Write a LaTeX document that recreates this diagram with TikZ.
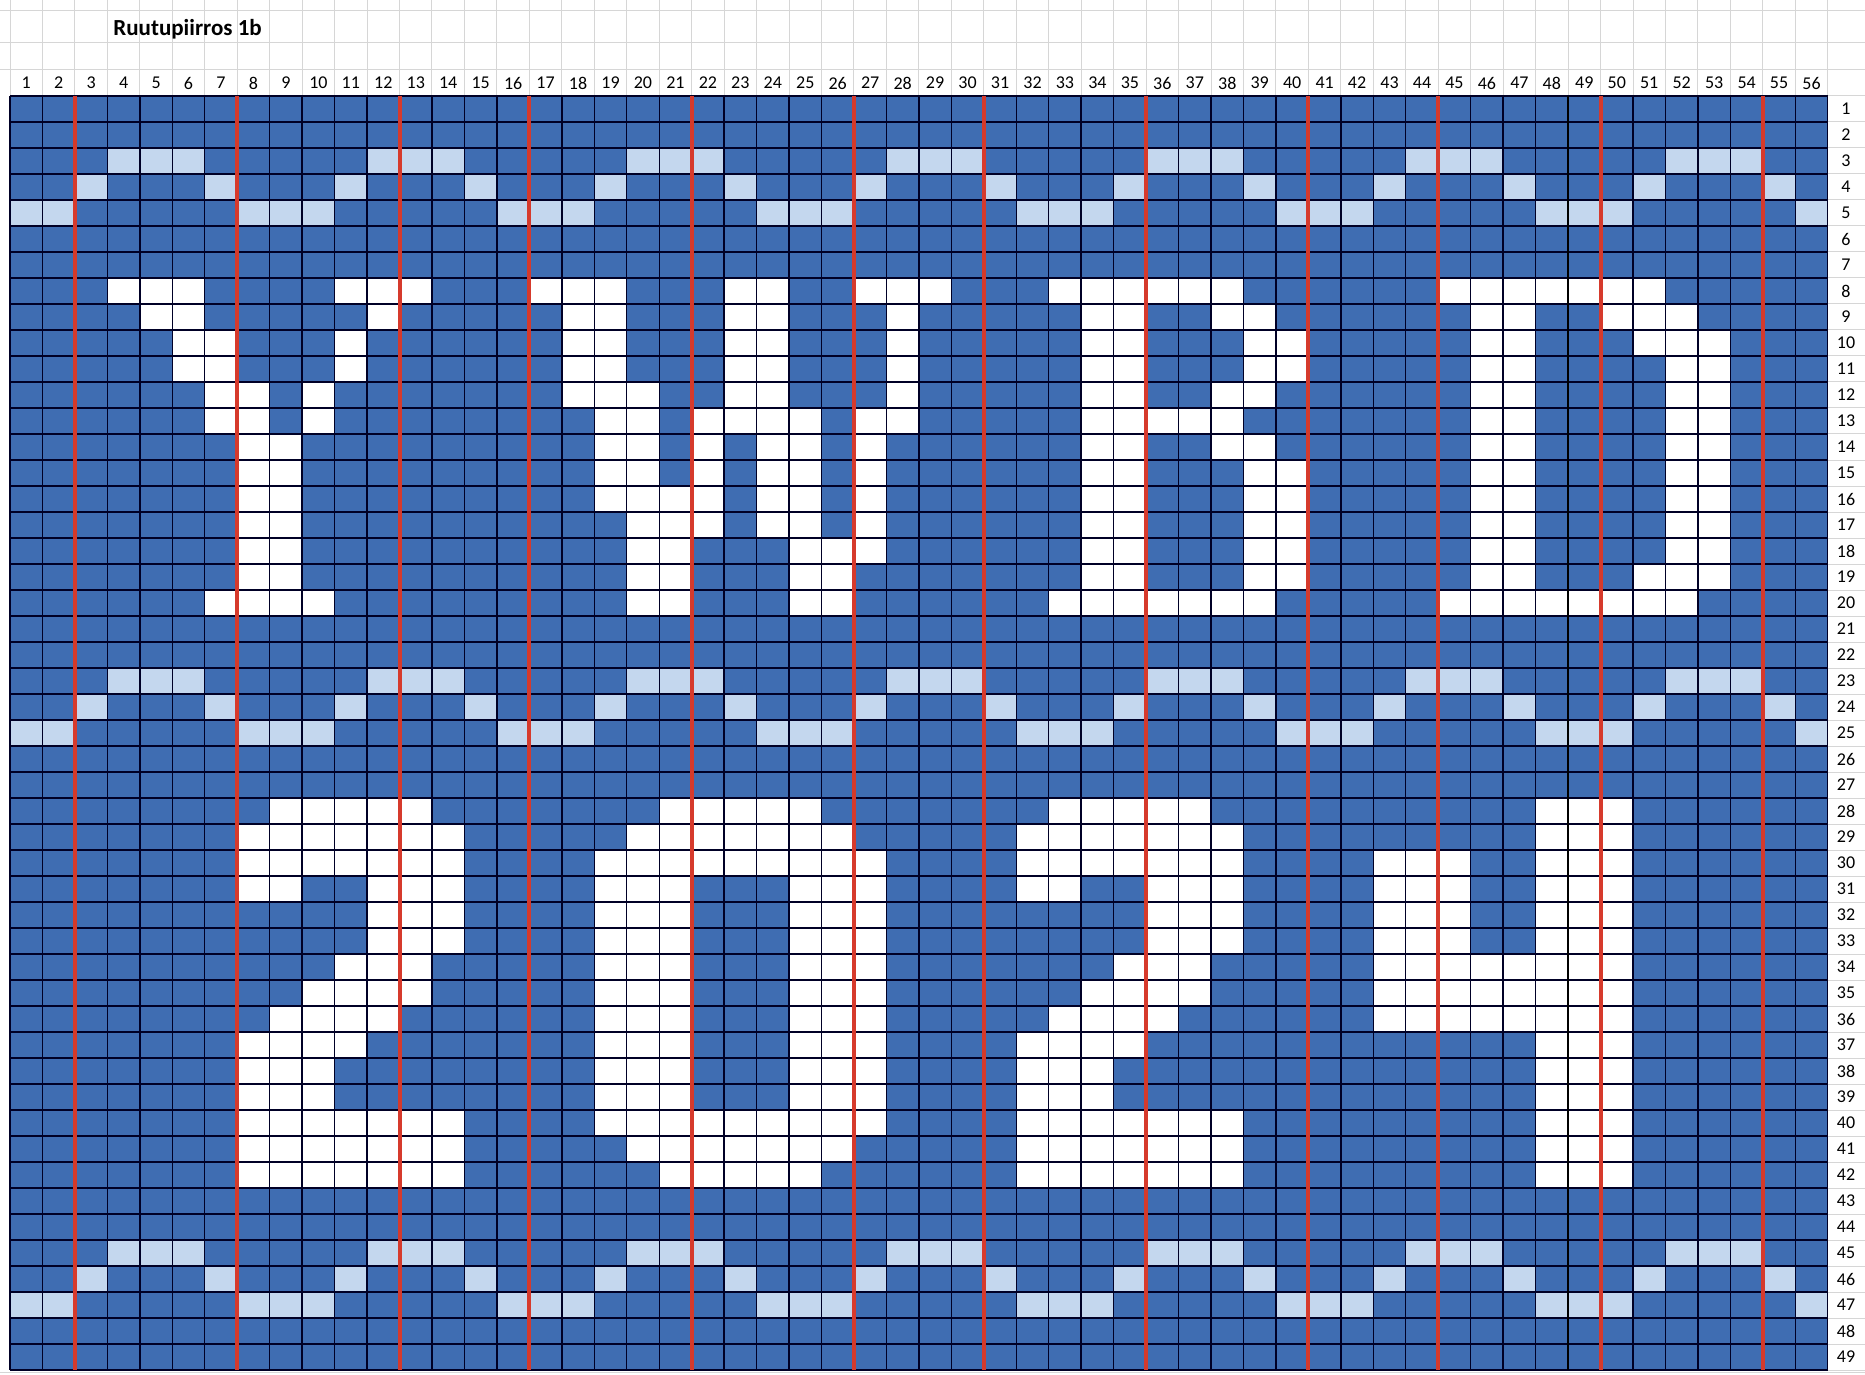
\documentclass[tikz,border=0pt]{standalone}
\usepackage{fontspec}
\setmainfont{Carlito}
\definecolor{cellblue}{RGB}{63,109,178}
\definecolor{lightcell}{RGB}{196,215,238}
\definecolor{redline}{RGB}{214,58,44}
\definecolor{sheetgrey}{RGB}{214,214,214}
\newcommand\gx[1]{10+(#1)*32.46}
\newcommand\gy[1]{96+(#1)*26}
\newcommand\paintcell[3]{\fill[#1] ({\gx{#2-1}},{\gy{#3-1}}) rectangle ++(32.46,26);}
\begin{document}
\begin{tikzpicture}[x=0.5pt,y=-0.5pt,
  collabel/.style={font=\fontsize{9}{10}\selectfont, inner sep=0pt},
  rowlabel/.style={font=\fontsize{9}{10}\selectfont, inner sep=0pt},
  titlelabel/.style={font=\bfseries\fontsize{11.5}{13}\selectfont, inner sep=0pt, anchor=west},
  gridline/.style={black!85!blue, line width=0.7pt},
  sheetline/.style={sheetgrey, line width=0.5pt},
  redsep/.style={redline, line width=2pt}]
\useasboundingbox (0,0) rectangle (1865,1375);
\fill[white] (0,0) rectangle (1865,1375);
% spreadsheet lines outside the chart
\foreach \i in {0,...,56} \draw[sheetline] ({\gx{\i}},0) -- ({\gx{\i}},96);
\draw[sheetline] (1865,0) -- (1865,1375);
\foreach \yy in {11,43,70} \draw[sheetline] (0,\yy) -- (1865,\yy);
\foreach \i in {0,...,49} \draw[sheetline] (1828,{\gy{\i}}) -- (1865,{\gy{\i}});
\draw[sheetline] (0,1372) -- (1865,1372);
% base
\fill[cellblue] ({\gx{0}},{\gy{0}}) rectangle ({\gx{56}},{\gy{49}});
% wave bands
\foreach \ra/\rb/\rc in {3/4/5, 23/24/25, 45/46/47}{
  \foreach \c in {4,5,6,12,13,14,20,21,22,28,29,30,36,37,38,44,45,46,52,53,54} {\paintcell{lightcell}{\c}{\ra}}
  \foreach \c in {3,7,11,15,19,23,27,31,35,39,43,47,51,55} {\paintcell{lightcell}{\c}{\rb}}
  \foreach \c in {1,2,8,9,10,16,17,18,24,25,26,32,33,34,40,41,42,48,49,50,56} {\paintcell{lightcell}{\c}{\rc}}
}
% letters Y W B D
\foreach \r/\cs in {
  8/{4,5,6,11,12,13,17,18,19,23,24,27,28,29,33,34,35,36,37,38,45,46,47,48,49,50,51},
  9/{5,6,12,18,19,23,24,28,34,35,38,39,46,47,50,51,52},
  10/{6,7,11,18,19,23,24,28,34,35,39,40,46,47,51,52,53},
  11/{6,7,11,18,19,23,24,28,34,35,39,40,46,47,52,53},
  12/{7,8,10,18,19,20,23,24,28,34,35,38,39,46,47,52,53},
  13/{7,8,10,19,20,22,23,24,25,27,28,34,35,36,37,38,46,47,52,53},
  14/{8,9,19,20,22,24,25,27,34,35,38,39,46,47,52,53},
  15/{8,9,19,20,22,24,25,27,34,35,39,40,46,47,52,53},
  16/{8,9,19,20,21,22,24,25,27,34,35,39,40,46,47,52,53},
  17/{8,9,20,21,22,24,25,27,34,35,39,40,46,47,52,53},
  18/{8,9,20,21,25,26,27,34,35,39,40,46,47,52,53},
  19/{8,9,20,21,25,26,34,35,39,40,46,47,51,52,53},
  20/{7,8,9,10,20,21,25,26,33,34,35,36,37,38,39,45,46,47,48,49,50,51,52}}{
  \foreach \c in \cs {\paintcell{white}{\c}{\r}}
}
% digits 2 0 2 4
\foreach \r/\cs in {
  28/{9,10,11,12,13,21,22,23,24,25,33,34,35,36,37,48,49,50},
  29/{8,9,10,11,12,13,14,20,21,22,23,24,25,26,32,33,34,35,36,37,38,48,49,50},
  30/{8,9,10,11,12,13,14,19,20,21,22,23,24,25,26,27,32,33,34,35,36,37,38,43,44,45,48,49,50},
  31/{8,9,12,13,14,19,20,21,25,26,27,32,33,36,37,38,43,44,45,48,49,50},
  32/{12,13,14,19,20,21,25,26,27,36,37,38,43,44,45,48,49,50},
  33/{12,13,14,19,20,21,25,26,27,36,37,38,43,44,45,48,49,50},
  34/{11,12,13,19,20,21,25,26,27,35,36,37,43,44,45,46,47,48,49,50},
  35/{10,11,12,13,19,20,21,25,26,27,34,35,36,37,43,44,45,46,47,48,49,50},
  36/{9,10,11,12,19,20,21,25,26,27,33,34,35,36,43,44,45,46,47,48,49,50},
  37/{8,9,10,11,19,20,21,25,26,27,32,33,34,35,48,49,50},
  38/{8,9,10,19,20,21,25,26,27,32,33,34,48,49,50},
  39/{8,9,10,19,20,21,25,26,27,32,33,34,48,49,50},
  40/{8,9,10,11,12,13,14,19,20,21,22,23,24,25,26,27,32,33,34,35,36,37,38,48,49,50},
  41/{8,9,10,11,12,13,14,20,21,22,23,24,25,26,32,33,34,35,36,37,38,48,49,50},
  42/{8,9,10,11,12,13,14,21,22,23,24,25,32,33,34,35,36,37,38,48,49,50}}{
  \foreach \c in \cs {\paintcell{white}{\c}{\r}}
}
% grid lines
\foreach \i in {0,...,56} \draw[gridline] ({\gx{\i}},{\gy{0}}) -- ({\gx{\i}},{\gy{49}});
\foreach \i in {0,...,49} \draw[gridline] ({\gx{0}},{\gy{\i}}) -- ({\gx{56}},{\gy{\i}});
\draw[black, line width=1.2pt] ({\gx{48}},{\gy{0}}) -- ({\gx{48}},{\gy{49}});
% red separators
\foreach \i in {2,7,12,16,21,26,30,35,40,44,49,54} \draw[redsep] ({\gx{\i}},{\gy{0}}) -- ({\gx{\i}},{\gy{49}});
% labels
\node[titlelabel] (title) at (113,29) {Ruutupiirros 1b};
\foreach \i in {1,...,56} \node[collabel] (col\i) at ({\gx{\i-0.5}},83) {\i};
\foreach \i in {1,...,49} \node[rowlabel] (row\i) at (1846,{\gy{\i-0.5}}) {\i};
\end{tikzpicture}
\end{document}
